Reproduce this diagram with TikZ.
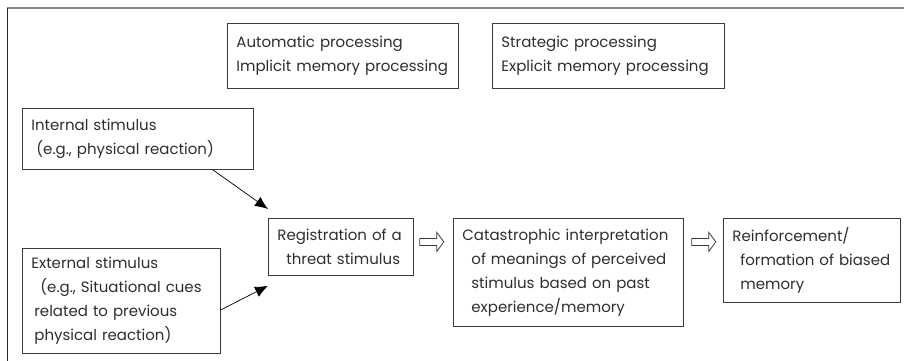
\documentclass[tikz,border=0pt]{standalone}
\usepackage{fontspec}
\setmainfont{Poppins}
\usetikzlibrary{arrows.meta}

\definecolor{boxline}{HTML}{3C3C3C}
\definecolor{textgray}{HTML}{2E2E2E}
\definecolor{framegray}{HTML}{8A8A8A}

\tikzset{
  stepbox/.style={draw=boxline, line width=0.8pt, inner xsep=9pt, inner ysep=0pt,
    align=left, anchor=north west, text=textgray,
    font=\fontsize{15}{24}\selectfont},
  feed/.style={draw=black, line width=0.7pt, -{Latex[length=13pt,width=11pt]}},
  hollow/.pic={\draw[boxline, line width=0.8pt] (0,3.5) -- (17,3.5) -- (17,9.5) -- (24,0)
    -- (17,-9.5) -- (17,-3.5) -- (0,-3.5) -- cycle;}
}

\begin{document}
\begin{tikzpicture}[x=1pt, y=-1pt]
                \useasboundingbox (0,0) rectangle (904,361);
                % Frame
                \draw [framegray, line width=1.5pt] (7,8) -- (904,8);
                \draw [black!85, line width=1pt] (7,8) -- (7,361);
                % Processing modes
                \node [stepbox, text width=213, minimum height=65] (auto) at (227,23)
                    {Automatic processing\\Implicit memory processing};
                \node [stepbox, text width=214, minimum height=65] (strat) at (492,23)
                    {Strategic processing\\Explicit memory processing};
                % Stimuli
                \node [stepbox, text width=213, minimum height=61] (internal) at (22,108)
                    {Internal stimulus\\\hspace*{5pt}(e.g., physical reaction)};
                \node [stepbox, text width=180, minimum height=105] (external) at (22,248)
                    {External stimulus\\\hspace*{9pt}(e.g., Situational cues\\\hspace*{3pt}related to previous\\\hspace*{3pt}physical reaction)};
                % Chain
                \node [stepbox, text width=127, minimum height=57] (reg) at (268,218)
                    {Registration of a\\\hspace*{9pt}threat stimulus};
                \node [stepbox, text width=212, minimum height=108] (cat) at (453,218)
                    {Catastrophic interpretation\\\hspace*{9pt}of meanings of perceived\\\hspace*{9pt}stimulus based on past\\\hspace*{9pt}experience/memory};
                \node [stepbox, text width=159, minimum height=84] (reinf) at (723,218)
                    {Reinforcement/\\\hspace*{8pt}formation of biased\\\hspace*{8pt}memory};
                % Arrows into registration
                \draw [feed] ([xshift=-41pt]internal.south east) -- ([yshift=9pt]reg.north west);
                \draw [feed] ([yshift=-9pt]external.east) -- ([yshift=-10pt]reg.south west);
                % Hollow arrows
                \coordinate (h1) at ([xshift=6pt,yshift=5pt]reg.east);
                \pic at (h1) {hollow};
                \pic [xshift=8pt] at (cat.east |- h1) {hollow};
            \end{tikzpicture}
\end{document}
